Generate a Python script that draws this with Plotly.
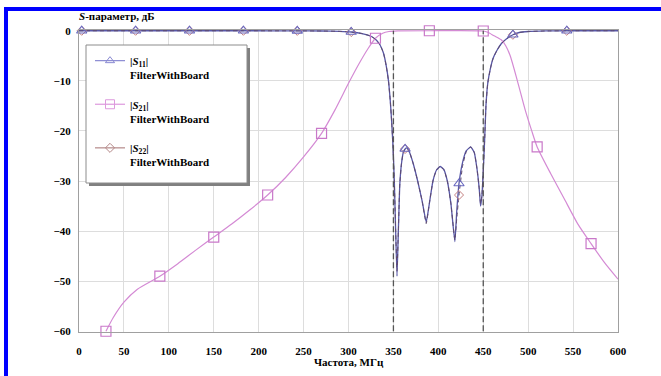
import plotly.graph_objects as go

# ---------------- data ----------------
s11_f = [0, 3, 63, 123, 183, 243, 270, 290, 303, 315, 325, 330, 335, 339, 342, 344.5, 346.5, 348,
         349.5, 351, 352.5, 354, 355.5, 357, 359, 361, 363, 365, 368, 372, 377, 382, 386.5, 390,
         394, 398, 402, 406, 410, 414, 418.4, 420.5, 423, 427, 431, 436, 440, 443, 445.5, 447,
         448.5, 450, 451.5, 453, 455, 458, 461, 465, 470, 476, 483, 490, 500, 520, 543, 600]
s11_db = [0, 0, 0, 0, 0, -0.02, -0.05, -0.12, -0.25, -0.55, -1.1, -1.7, -2.8, -4.5, -7, -10, -14, -18,
          -23, -30, -40, -49, -40, -31, -26.5, -24.3, -23.6, -23.4, -24.3, -26.5, -30, -34, -38.2, -34.5,
          -30, -27.8, -27.1, -27.7, -30, -34.5, -42.1, -36, -30.5, -26.3, -24, -23.2, -24.3, -27.5, -31.5, -35,
          -33, -28, -22, -15, -10.5, -7.5, -5.5, -4, -2.6, -1.6, -0.8, -0.35, -0.15, -0.04, 0, 0]

s22_f = s11_f
s22_db = [0, 0, 0, 0, 0, -0.02, -0.05, -0.12, -0.25, -0.55, -1.1, -1.7, -2.8, -4.5, -7, -10, -14, -18,
          -23, -30, -40, -48, -40, -31, -26.5, -24.3, -23.6, -23.4, -24.3, -26.5, -30, -34, -38.5, -34.5,
          -30, -27.8, -27.1, -27.7, -30, -34.5, -41.8, -37.5, -32.8, -27, -24.2, -23.2, -24.3, -27.5, -31.5, -34.5,
          -33, -28, -22, -15, -10.5, -7.5, -5.5, -4, -2.6, -1.6, -0.8, -0.35, -0.15, -0.04, 0, 0]

s21_f = [30, 38, 50, 65, 90, 110, 130, 150, 170, 190, 210, 230, 250, 270, 285, 300, 312, 322,
         330, 338, 345, 355, 390, 450, 455, 462, 470, 475, 480, 488, 497, 504, 510, 525, 540, 555,
         570, 585, 600]
s21_db = [-60, -57.3, -54.2, -51.6, -49, -46.5, -43.8, -41.2, -38.6, -35.8, -32.8, -29.3, -25.2,
          -20.5, -15.8, -10.5, -6.5, -3.5, -1.5, -0.5, -0.15, -0.03, 0, -0.05, -0.3, -1.0, -1.8, -3.0,
          -5.0, -10, -16, -20, -23.2, -28.5, -33.5, -38.5, -42.5, -46.3, -49.6]

s11_marker_f = [3, 63, 123, 183, 243, 303, 363, 423, 483, 543]
s21_marker_f = [30, 90, 150, 210, 270, 330, 390, 450, 510, 570]
s22_marker_f = [3, 63, 123, 183, 243, 303, 363, 423, 483, 543]

band_edges = [350, 450]
x_ticks = list(range(0, 601, 50))
y_ticks = list(range(-60, 1, 10))

names = ["|<i>S</i><sub>11</sub>|<br>FilterWithBoard",
         "|<i>S</i><sub>21</sub>|<br>FilterWithBoard",
         "|<i>S</i><sub>22</sub>|<br>FilterWithBoard"]

# ---------------- layout helpers ----------------
W, H = 661, 376
ML, MR, MT, MB = 79, 43, 30, 44
PW, PH = W - ML - MR, H - MT - MB


def px(x):
    return (x - ML) / PW


def py(y):
    return (H - MB - y) / PH


FONT = "Liberation Serif, Times New Roman, serif"

c11_line, c11_mk, c11_leg = "#5858a8", "#6a6ac0", "#8a8ad2"
c21_line, c21_mk = "#d48ad4", "#c978c9"
c22_line, c22_mk, c22_leg = "#5e4a6e", "#c48080", "#b48888"

fig = go.Figure()

# curves
fig.add_trace(go.Scatter(x=s11_f, y=s11_db, mode="lines", showlegend=False,
                         line=dict(color=c11_line, width=1.3, shape="spline", smoothing=0.4)))
fig.add_trace(go.Scatter(x=s21_f, y=s21_db, mode="lines", showlegend=False,
                         line=dict(color=c21_line, width=1.2, shape="spline", smoothing=0.6)))
fig.add_trace(go.Scatter(x=s22_f, y=s22_db, mode="lines", showlegend=False,
                         line=dict(color=c22_line, width=1.0, dash="4px,3px", shape="spline", smoothing=0.4)))


def pick(fs, vals, sel):
    d = dict(zip(fs, vals))
    return [d[f] for f in sel]


# markers
fig.add_trace(go.Scatter(x=s22_marker_f, y=pick(s22_f, s22_db, s22_marker_f), mode="markers",
                         showlegend=False, cliponaxis=False,
                         marker=dict(symbol="diamond-open", size=7, color=c22_mk, line=dict(width=1))))
fig.add_trace(go.Scatter(x=s21_marker_f, y=pick(s21_f, s21_db, s21_marker_f), mode="markers",
                         showlegend=False, cliponaxis=False,
                         marker=dict(symbol="square-open", size=10, color=c21_mk, line=dict(width=1.2))))
fig.add_trace(go.Scatter(x=s11_marker_f, y=pick(s11_f, s11_db, s11_marker_f), mode="markers",
                         showlegend=False, cliponaxis=False,
                         marker=dict(symbol="triangle-up-open", size=9, color=c11_mk, line=dict(width=1.1))))

# legend entries
leg = [(names[0], c11_leg, "triangle-up-open", 8),
       (names[1], "#dd99dd", "square-open", 9),
       (names[2], c22_leg, "diamond-open", 7)]
for i, (nm, col, sym, sz) in enumerate(leg):
    fig.add_trace(go.Scatter(x=[None], y=[None], mode="lines+markers", name=nm, legendgroup=f"g{i}",
                             line=dict(color=col, width=1.2),
                             marker=dict(symbol=sym, size=sz, color=col, line=dict(width=1))))

shapes = []
for f in band_edges:
    shapes.append(dict(type="line", xref="x", yref="y", x0=f, x1=f, y0=-60, y1=0,
                       line=dict(color="#555555", width=1.3, dash="6px,3px")))
# legend box with shadow
shapes.append(dict(type="rect", xref="paper", yref="paper", layer="above",
                   x0=px(89), x1=px(250), y0=py(186), y1=py(48),
                   fillcolor="#808080", line=dict(width=0)))
shapes.append(dict(type="rect", xref="paper", yref="paper", layer="above",
                   x0=px(86), x1=px(247), y0=py(183), y1=py(45),
                   fillcolor="white", line=dict(color="#8c8c8c", width=1)))
# blue frame of the scan
shapes.append(dict(type="rect", xref="paper", yref="paper", layer="above",
                   x0=px(4), x1=px(661), y0=py(11), y1=py(7),
                   fillcolor="#0000ff", line=dict(width=0)))
shapes.append(dict(type="rect", xref="paper", yref="paper", layer="above",
                   x0=px(4), x1=px(8), y0=py(376), y1=py(7),
                   fillcolor="#0000ff", line=dict(width=0)))

tickfont = dict(family=FONT, size=11, color="black", weight="bold")

fig.update_layout(
    width=W, height=H, autosize=False,
    margin=dict(l=ML, r=MR, t=MT, b=MB, pad=0),
    paper_bgcolor="white", plot_bgcolor="white",
    font=dict(family=FONT, color="black"),
    shapes=shapes,
    showlegend=True,
    legend=dict(x=px(90), y=py(47), xanchor="left", yanchor="top",
                bgcolor="rgba(0,0,0,0)", borderwidth=0,
                font=dict(family=FONT, size=11, color="black", weight="bold"),
                traceorder="grouped", tracegroupgap=12, valign="top", itemwidth=30),
    xaxis=dict(range=[0, 600], tickvals=x_ticks, showgrid=True, gridcolor="#dddddd", gridwidth=1,
               zeroline=False, showline=True, linecolor="#a0a0a0", linewidth=1, mirror=True,
               ticks="", tickfont=tickfont, ticklabelstandoff=9),
    yaxis=dict(range=[-60.15, 0.15], tickvals=y_ticks, showgrid=True, gridcolor="#dddddd", gridwidth=1,
               zeroline=False, showline=True, linecolor="#a0a0a0", linewidth=1, mirror=True,
               ticks="", tickfont=tickfont, ticklabelstandoff=5),
    annotations=[
        dict(text="<i>S</i>-параметр, дБ", xref="paper", yref="paper", x=px(77), y=py(16),
             xanchor="left", yanchor="middle", showarrow=False,
             font=dict(family=FONT, size=11, color="black", weight="bold")),
        dict(text="Частота, МГц", xref="paper", yref="paper", x=0.5, y=py(362),
             xanchor="center", yanchor="middle", showarrow=False,
             font=dict(family=FONT, size=11, color="black", weight="bold")),
    ],
)

fig.write_html("out.html")
